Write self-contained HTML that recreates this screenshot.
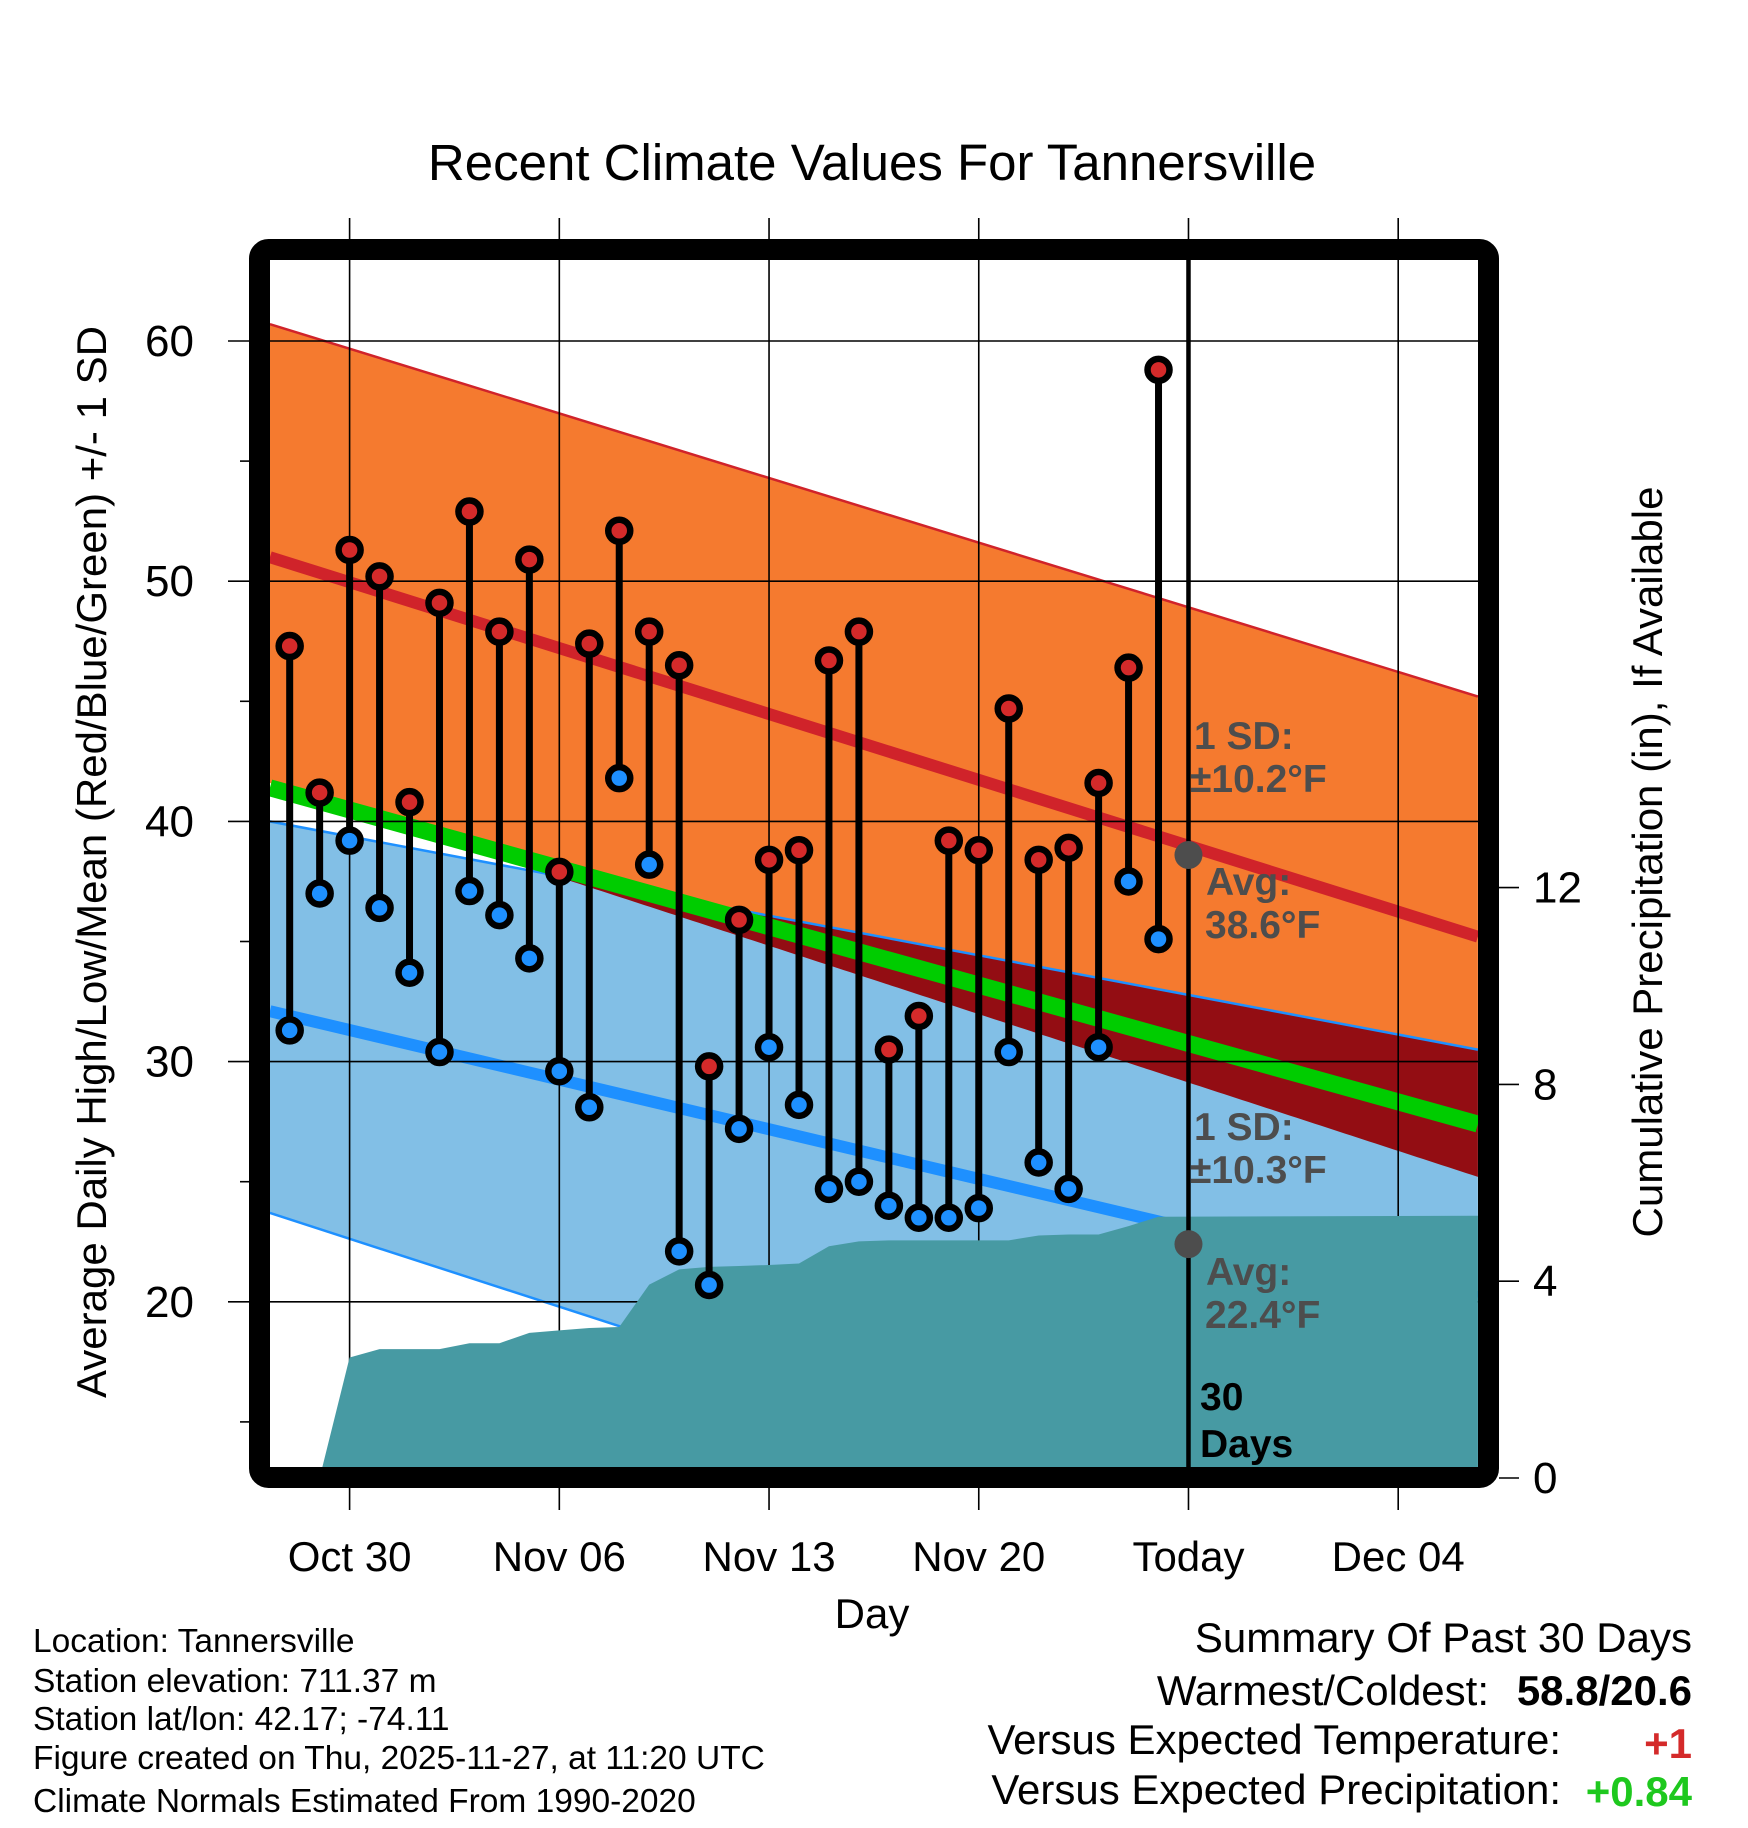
<!DOCTYPE html>
<html><head><meta charset="utf-8"><style>
html,body{margin:0;padding:0;background:#fff;}
svg{display:block;font-family:"Liberation Sans",Arial,sans-serif;}
</style></head><body>
<svg id="chart" width="1748" height="1828" viewBox="0 0 1748 1828" xmlns="http://www.w3.org/2000/svg">
<defs><clipPath id="plotclip"><rect x="270" y="260" width="1208" height="1207"/></clipPath></defs>
<g id="bands" clip-path="url(#plotclip)"></g>
<g id="grid"></g>
<g id="precip" clip-path="url(#plotclip)"></g>
<g id="annot"></g>
<g id="marks"></g>
<rect x="259.5" y="249.5" width="1229" height="1228" rx="9" fill="none" stroke="#000" stroke-width="21"/>
<g id="axes"></g>
<text x="872" y="180" font-size="51" text-anchor="middle">Recent Climate Values For Tannersville</text>
<text transform="translate(106,862) rotate(-90)" font-size="42" text-anchor="middle">Average Daily High/Low/Mean (Red/Blue/Green) +/- 1 SD</text>
<text transform="translate(1662,862) rotate(-90)" font-size="42" text-anchor="middle">Cumulative Precipitation (in), If Available</text>
<text x="872" y="1628" font-size="42" text-anchor="middle">Day</text>
<g font-size="33.5">
<text x="33" y="1652">Location: Tannersville</text>
<text x="33" y="1692">Station elevation: 711.37 m</text>
<text x="33" y="1730">Station lat/lon: 42.17; -74.11</text>
<text x="33" y="1769">Figure created on Thu, 2025-11-27, at 11:20 UTC</text>
<text x="33" y="1812">Climate Normals Estimated From 1990-2020</text>
</g>
<g font-size="42">
<text x="1692" y="1652" text-anchor="end">Summary Of Past 30 Days</text>
<text x="1489" y="1705" text-anchor="end">Warmest/Coldest:</text>
<text x="1692" y="1705" text-anchor="end" font-weight="bold">58.8/20.6</text>
<text x="1561" y="1754" text-anchor="end">Versus Expected Temperature:</text>
<text x="1692" y="1758" text-anchor="end" font-weight="bold" fill="#d42a2a">+1</text>
<text x="1561" y="1804" text-anchor="end">Versus Expected Precipitation:</text>
<text x="1692" y="1806" text-anchor="end" font-weight="bold" fill="#1ec81e">+0.84</text>
</g>
</svg>
<script>
// ---- data ----
const dayOffsets = [-2,-1,0,1,2,3,4,5,6,7,8,9,10,11,12,13,14,15,16,17,18,19,20,21,22,23,24,25,26,27];
const highs = [47.3,41.2,51.3,50.2,40.8,49.1,52.9,47.9,50.9,37.9,47.4,52.1,47.9,46.5,29.8,35.9,38.4,38.8,46.7,47.9,30.5,31.9,39.2,38.8,44.7,38.4,38.9,41.6,46.4,58.8];
const lows  = [31.3,37.0,39.2,36.4,33.7,30.4,37.1,36.1,34.3,29.6,28.1,41.8,38.2,22.1,20.7,27.2,30.6,28.2,24.7,25.0,24.0,23.5,23.5,23.9,30.4,25.8,24.7,30.6,37.5,35.1];
const precipCum = [null,0,2.45,2.62,2.62,2.62,2.74,2.74,2.95,3.0,3.05,3.07,3.93,4.24,4.29,4.31,4.33,4.36,4.71,4.81,4.83,4.83,4.83,4.83,4.83,4.93,4.95,4.95,5.12,5.31];
const precipEndValue = [5.33];
const normEdgeDays = [-2.66, 37.66];
const highSDTop = [60.7, 45.2];
const highMean = [51.0, 35.2];
const highSDBottom = [41.6, 25.2];
const lowSDTop = [40.0, 30.5];
const lowMean = [32.1, 20.2];
const lowSDBottom = [23.7, 7.4];
const overallMean = [41.4, 27.4];
const xTickDays = [0,7,14,21,28,35];
const xTickLabels = ["Oct 30","Nov 06","Nov 13","Nov 20","Today","Dec 04"];
const yTicks = [20,30,40,50,60];
const yMinorTicks = [15,25,35,45,55];
const precipTicks = [0,4,8,12];
const todayDay = [28];
const avgHighToday = [38.6];
const avgLowToday = [22.4];

// ---- scales ----
const xDay = d => 349.6 + d*29.96;
const yT = v => 341 + (60 - v)*24.02;
const yP = p => 1478 - p*49.2;
const NS = "http://www.w3.org/2000/svg";
function mk(tag, parent, attrs){const e=document.createElementNS(NS,tag);for(const k in attrs)e.setAttribute(k,attrs[k]);parent.appendChild(e);return e;}
const lerp = (arr,d)=> arr[0] + (arr[1]-arr[0])*(d-normEdgeDays[0])/(normEdgeDays[1]-normEdgeDays[0]);

const bands=document.getElementById('bands');
function bandPoly(top,bot,fill,name){
  const d0=normEdgeDays[0],d1=normEdgeDays[1];
  const pts=[[xDay(d0),yT(top[0])],[xDay(d1),yT(top[1])],[xDay(d1),yT(bot[1])],[xDay(d0),yT(bot[0])]];
  const p=mk('polygon',bands,{points:pts.map(q=>q.join(',')).join(' '),fill:fill});
  
  
}
function line(arr,color,w,name){
  const l=mk('line',bands,{x1:xDay(normEdgeDays[0]),y1:yT(arr[0]),x2:xDay(normEdgeDays[1]),y2:yT(arr[1]),stroke:color,'stroke-width':w});
  
  
}
bandPoly(highSDTop,highSDBottom,'#F57A2F','high-sd-band');
bandPoly(lowSDTop,lowSDBottom,'#82BFE6','low-sd-band');
{
  const N=200, top=[], bot=[];
  for(let i=0;i<=N;i++){
    const d=normEdgeDays[0]+(normEdgeDays[1]-normEdgeDays[0])*i/N;
    const t=Math.min(lerp(highSDTop,d),lerp(lowSDTop,d));
    const b=Math.max(lerp(highSDBottom,d),lerp(lowSDBottom,d));
    if(t>b){top.push([xDay(d),yT(t)]);bot.unshift([xDay(d),yT(b)]);}
  }
  if(top.length){
    const p=mk('polygon',bands,{points:top.concat(bot).map(q=>q.join(',')).join(' '),fill:'#930D13'});
    
    
  }
}
line(highSDTop,'#D0232A',2.5,'high-sd-top-edge');
line(lowSDTop,'#1E90FF',2.5,'low-sd-top-edge');
line(lowSDBottom,'#1E90FF',2.5,'low-sd-bottom-edge');
line(overallMean,'#00CC00',17,'mean-line');
line(highMean,'#D0232A',12,'high-mean-line');
line(lowMean,'#1E90FF',12,'low-mean-line');

const grid=document.getElementById('grid');
xTickDays.forEach((d,i)=>{
  const g=mk('line',grid,{x1:xDay(d),x2:xDay(d),y1:218,y2:1510,stroke:'#000','stroke-width':1.6});
  
  
});
yTicks.forEach(v=>{
  const g=mk('line',grid,{x1:228,x2:1478,y1:yT(v),y2:yT(v),stroke:'#000','stroke-width':1.6});
  
  
});

{
  const pr=document.getElementById('precip');
  const pts=[];
  let firstD=null;
  precipCum.forEach((p,i)=>{ if(p===null) return; if(firstD===null)firstD=dayOffsets[i]; pts.push([xDay(dayOffsets[i]),yP(p)]); });
  pts.push([xDay(normEdgeDays[1]),yP(precipEndValue[0])]);
  pts.push([xDay(normEdgeDays[1]),yP(0)+20]);
  pts.push([xDay(firstD),yP(0)+20]);
  const a=mk('polygon',pr,{points:pts.map(q=>q.join(',')).join(' '),fill:'#479AA3','stroke-linejoin':'round'});
  
  
}

{
  const an=document.getElementById('annot');
  const tx=xDay(todayDay[0]);
  const tl=mk('line',an,{x1:tx,x2:tx,y1:260,y2:1467,stroke:'#000','stroke-width':4.5});
  
  
  const d1=mk('circle',an,{cx:tx,cy:yT(avgHighToday[0]),r:14,fill:'#4D4D4D'});
  
  
  const d2=mk('circle',an,{cx:tx,cy:yT(avgLowToday[0]),r:14,fill:'#4D4D4D'});
  
  
  const labels=[["1 SD:",1194,749,'#4D4D4D','high-sd-label'],["\u00B110.2\u00B0F",1190,792,'#4D4D4D','high-sd-value'],
    ["Avg:",1206,895,'#4D4D4D','avg-high-label'],["38.6\u00B0F",1205,938,'#4D4D4D','avg-high-value'],
    ["1 SD:",1194,1140,'#4D4D4D','low-sd-label'],["\u00B110.3\u00B0F",1190,1183,'#4D4D4D','low-sd-value'],
    ["Avg:",1206,1285,'#4D4D4D','avg-low-label'],["22.4\u00B0F",1205,1328,'#4D4D4D','avg-low-value'],
    ["30",1200,1410,'#000','days-count'],["Days",1200,1457,'#000','days-label']];
  labels.forEach(l=>{
    const t=mk('text',an,{x:l[1],y:l[2],fill:l[3],'font-size':39,'font-weight':'bold'});
    t.textContent=l[0];
    
    
  });
}

{
  const mg=document.getElementById('marks');
  dayOffsets.forEach((d,i)=>{
    const x=xDay(d);
    const w=mk('line',mg,{x1:x,x2:x,y1:yT(highs[i]),y2:yT(lows[i]),stroke:'#000','stroke-width':7});
    
    
  });
  dayOffsets.forEach((d,i)=>{
    const x=xDay(d);
    const h=mk('circle',mg,{cx:x,cy:yT(highs[i]),r:11,fill:'#D42A2A',stroke:'#000','stroke-width':6.5});
    
    
    const l=mk('circle',mg,{cx:x,cy:yT(lows[i]),r:11,fill:'#1E90FF',stroke:'#000','stroke-width':6.5});
    
    
  });
}

{
  const ax=document.getElementById('axes');
  xTickDays.forEach((d,i)=>{
    const t=mk('text',ax,{x:xDay(d),y:1571,'font-size':42,'text-anchor':'middle'});
    t.textContent=xTickLabels[i];
    
    
  });
  yTicks.forEach(v=>{
    const t=mk('text',ax,{x:194,y:yT(v)+15,'font-size':44,'text-anchor':'end'});
    t.textContent=v;
    
    
  });
  yMinorTicks.forEach(v=>{
    const m=mk('line',ax,{x1:240,x2:250,y1:yT(v),y2:yT(v),stroke:'#000','stroke-width':1.6});
    
    
  });
  precipTicks.forEach(p=>{
    const m=mk('line',ax,{x1:1499,x2:1519,y1:yP(p),y2:yP(p),stroke:'#000','stroke-width':1.6});
    
    
    const t=mk('text',ax,{x:1533,y:yP(p)+15,'font-size':44});
    t.textContent=p;
    
    
  });
}
</script>
</body></html>
